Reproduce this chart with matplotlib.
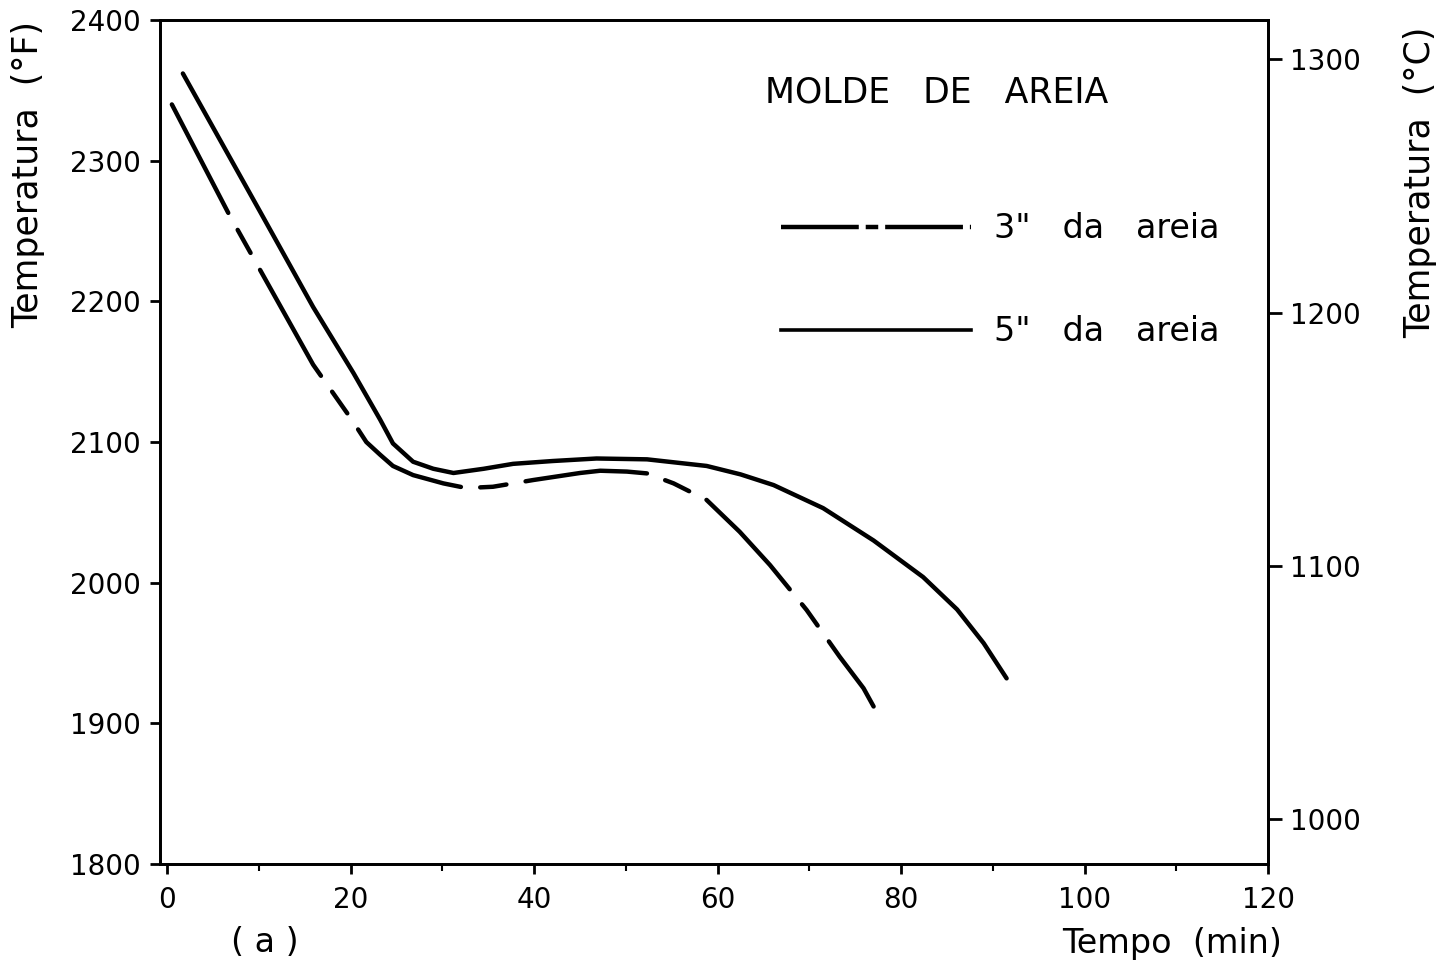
import matplotlib
matplotlib.use('Agg')
import matplotlib.pyplot as plt
from matplotlib.lines import Line2D
from matplotlib.ticker import MultipleLocator

# tempo (min) e temperatura (°F)
t_5in = [1.7, 10.1, 15.9, 20.3, 23.2, 24.6, 26.8, 29.0, 31.2, 34.5, 37.7, 42.0, 46.8,
         52.3, 58.8, 62.5, 66.1, 71.5, 77.0, 82.4, 86.1, 89.0, 91.5]
temp_5in = [2362, 2264, 2196, 2149, 2116, 2099, 2086, 2081, 2078, 2081, 2084.5, 2086.5,
            2088.3, 2087.7, 2083, 2077, 2069.4, 2053, 2030, 2004, 1981, 1957, 1932]

t_3in = [0.5, 6.8, 15.9, 20.1, 21.7, 23.2, 24.6, 26.8, 30.1, 32.6, 35.5, 39.9, 45.0,
         47.2, 50.1, 52.3, 55.2, 58.8, 62.4, 65.7, 69.7, 73.3, 75.9, 77.0]
temp_3in = [2340, 2261, 2155, 2116, 2100, 2091, 2083, 2076.5, 2070.6, 2067.3, 2068.2,
            2073, 2078, 2079.6, 2079, 2077.7, 2070.6, 2058.8, 2036.2, 2012.6, 1980.6,
            1947.4, 1925, 1912]

x_ticks = [0, 20, 40, 60, 80, 100, 120]
f_ticks = [1800, 1900, 2000, 2100, 2200, 2300, 2400]
c_ticks = [1000, 1100, 1200, 1300]

labels = ['3"   da   areia', '5"   da   areia']

plt.rcParams['font.family'] = ['DejaVu Sans']
plt.rcParams['lines.scale_dashes'] = False

fig = plt.figure(figsize=(14.54, 9.68), dpi=100)
ax = fig.add_axes([0.110, 0.1074, 0.7621, 0.8719])

ax.plot(t_3in, temp_3in, color='black', lw=3.2,
        dashes=(88, 14, 19, 14), solid_capstyle='round', dash_capstyle='round')
ax.plot(t_5in, temp_5in, color='black', lw=3.2, solid_capstyle='round')

ax.set_xlim(-0.8, 120)
ax.set_ylim(1800, 2400)
ax.set_xticks(x_ticks)
ax.xaxis.set_minor_locator(MultipleLocator(10))
ax.set_yticks(f_ticks)

for s in ax.spines.values():
    s.set_linewidth(2.0)

ax.tick_params(axis='both', which='major', labelsize=20, width=2, length=7, pad=7)
ax.tick_params(axis='x', which='minor', width=1.5, length=5)
ax.tick_params(axis='x', which='major', pad=9)

# escala em °C à direita
ax2 = ax.twinx()
ax2.set_ylim((1800 - 32) * 5 / 9, (2400 - 32) * 5 / 9)
ax2.set_yticks(c_ticks)
ax2.tick_params(axis='y', labelsize=20, width=2, length=10, pad=6)
for s in ax2.spines.values():
    s.set_linewidth(2.0)

# legenda com traços mais curtos, como no desenho
handles = [Line2D([], [], color='black', lw=3.2, dashes=(56, 5, 9, 5)),
           Line2D([], [], color='black', lw=2.6)]
ax.legend(handles, labels, loc='center left', bbox_to_anchor=(0.5452, 0.6914),
          frameon=False, fontsize=24, handlelength=5.7, handletextpad=0.7,
          labelspacing=2.1, borderpad=0)

ax.text(0.546, 0.9147, 'MOLDE   DE   AREIA', transform=ax.transAxes,
        fontsize=25, ha='left', va='center')

fig.text(28 / 1454, 1 - 174 / 968, 'Temperatura  (°F)', rotation=90,
         fontsize=25, ha='center', va='center')
fig.text(1420 / 1454, 1 - 182 / 968, 'Temperatura  (°C)', rotation=90,
         fontsize=25, ha='center', va='center')
fig.text(1172 / 1454, 1 - 943 / 968, 'Tempo  (min)', fontsize=24, ha='center', va='center')
fig.text(265 / 1454, 1 - 942 / 968, '( a )', fontsize=24, ha='center', va='center')

fig.savefig('out.png', dpi=100)
